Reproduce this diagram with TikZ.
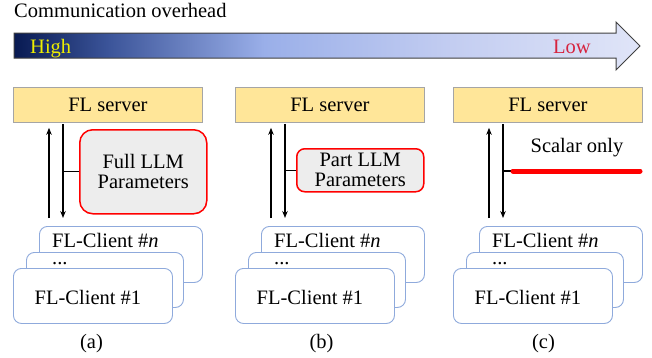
\documentclass[tikz,border=0pt]{standalone}
\usepackage{fontspec}
\setmainfont{Liberation Serif}[Ligatures=TeX]
\usetikzlibrary{arrows.meta,calc}
\definecolor{srvfill}{HTML}{FFE699}
\definecolor{srvdraw}{HTML}{A5A5A5}
\definecolor{clidraw}{HTML}{8FAADC}
\definecolor{boxfill}{HTML}{EDEDED}
\definecolor{redline}{HTML}{FF0000}
\definecolor{ovnavy}{HTML}{081A52}
\definecolor{ovdark}{HTML}{3B5499}
\definecolor{ovmid}{HTML}{9AAFE9}
\definecolor{ovlight}{HTML}{C3CDF1}
\definecolor{ovpale}{HTML}{E0E5F8}
\definecolor{hicol}{HTML}{EEEE00}
\definecolor{locol}{HTML}{D6243F}
\pgfdeclarehorizontalshading{ovshade}{100bp}{color(0bp)=(ovnavy); color(25bp)=(ovnavy); color(32.5bp)=(ovdark); color(45bp)=(ovmid); color(60bp)=(ovlight); color(75bp)=(ovpale); color(100bp)=(ovpale)}
\tikzset{
  txt/.style={font=\rmfamily\fontsize{20.5}{20}\selectfont, inner sep=0pt},
  server/.style={txt, draw=srvdraw, fill=srvfill, line width=0.8pt, anchor=north west, minimum width=189pt, minimum height=35pt},
  client/.style={draw=clidraw, fill=white, line width=0.9pt, rounded corners=8pt, anchor=north west, minimum height=55pt},
  arr/.style={line width=1.4pt, -{Stealth[length=7pt,width=5.5pt]}},
  branch/.style={line width=1.2pt},
  parbox/.style={txt, draw=redline, fill=boxfill, line width=1.5pt, anchor=north west, align=center},
}
\newcommand\flpanel[4]{%
  \begin{scope}[xshift=#2pt]
    \node[server] (srv#1) at (13,87) {FL server};
    \node[client, minimum width=163pt, minimum height=56pt] (cn#1) at (39,226) {};
    \node[client, minimum width=157pt] (cm#1) at (26,252) {};
    \node[client, minimum width=159pt] (c1#1) at (13,268) {};
    \node[txt, anchor=west] (tn#1) at ([xshift=13pt,yshift=-14pt]cn#1.north west) {FL-Client \#\textit{n}};
    \node[txt, anchor=base west] (td#1) at ([xshift=26pt,yshift=-12pt]cm#1.north west) {...};
    \node[txt] (t1#1) at ([xshift=-5pt,yshift=-2pt]c1#1.center) {FL-Client \#1};
    \node[txt] (cap#1) at ([xshift=#4pt,yshift=-20pt]c1#1.south) {(#3)};
    \coordinate (up#1) at (49,0);
    \coordinate (dn#1) at (63,0);
    \draw[arr, shorten <=8pt, shorten >=5pt] (up#1 |- cn#1.north) -- (up#1 |- srv#1.south);
    \draw[arr, shorten <=1pt, shorten >=8pt] (dn#1 |- srv#1.south) -- (dn#1 |- cn#1.north);
  \end{scope}}
\begin{document}
\begin{tikzpicture}[x=1pt, y=-1pt]
  \useasboundingbox (0,0) rectangle (652,357);
  % overhead arrow
  \node[txt, anchor=base west] (title) at (14,17.5) {Communication overhead};
  \path[shading=ovshade, draw=black!75, line width=1pt]
    (14,33) -- (616,33) -- (616,22) -- (640,46) -- (616,70) -- (616,58) -- (14,58) -- cycle;
  \node[txt, anchor=base west, text=hicol] (high) at (30,53) {High};
  \node[txt, anchor=base west, text=locol] (low) at (553,53) {Low};
  % panels
  \flpanel{A}{0}{a}{-1.5}
  \flpanel{B}{222}{b}{6.5}
  \flpanel{C}{440}{c}{10.5}
  % panel (a) content
  \node[parbox, rounded corners=13pt, minimum width=127pt, minimum height=84pt] (full) at (79,129) {Full LLM\\Parameters};
  \draw[branch] (dnA |- full.west) -- (full.west);
  % panel (b) content
  \node[parbox, rounded corners=8pt, minimum width=127pt, minimum height=43pt] (part) at (296,148) {Part LLM\\Parameters};
  \draw[branch] (dnB |- part.west) -- (part.west);
  % panel (c) content
  \coordinate (rs) at (513,171);
  \coordinate (re) at (640,171);
  \draw[branch] (dnC |- rs) -- (rs);
  \draw[redline, line width=5pt, line cap=round] (rs) -- (re);
  \node[txt] (scalar) at (577,148) {Scalar only};
\end{tikzpicture}
\end{document}
